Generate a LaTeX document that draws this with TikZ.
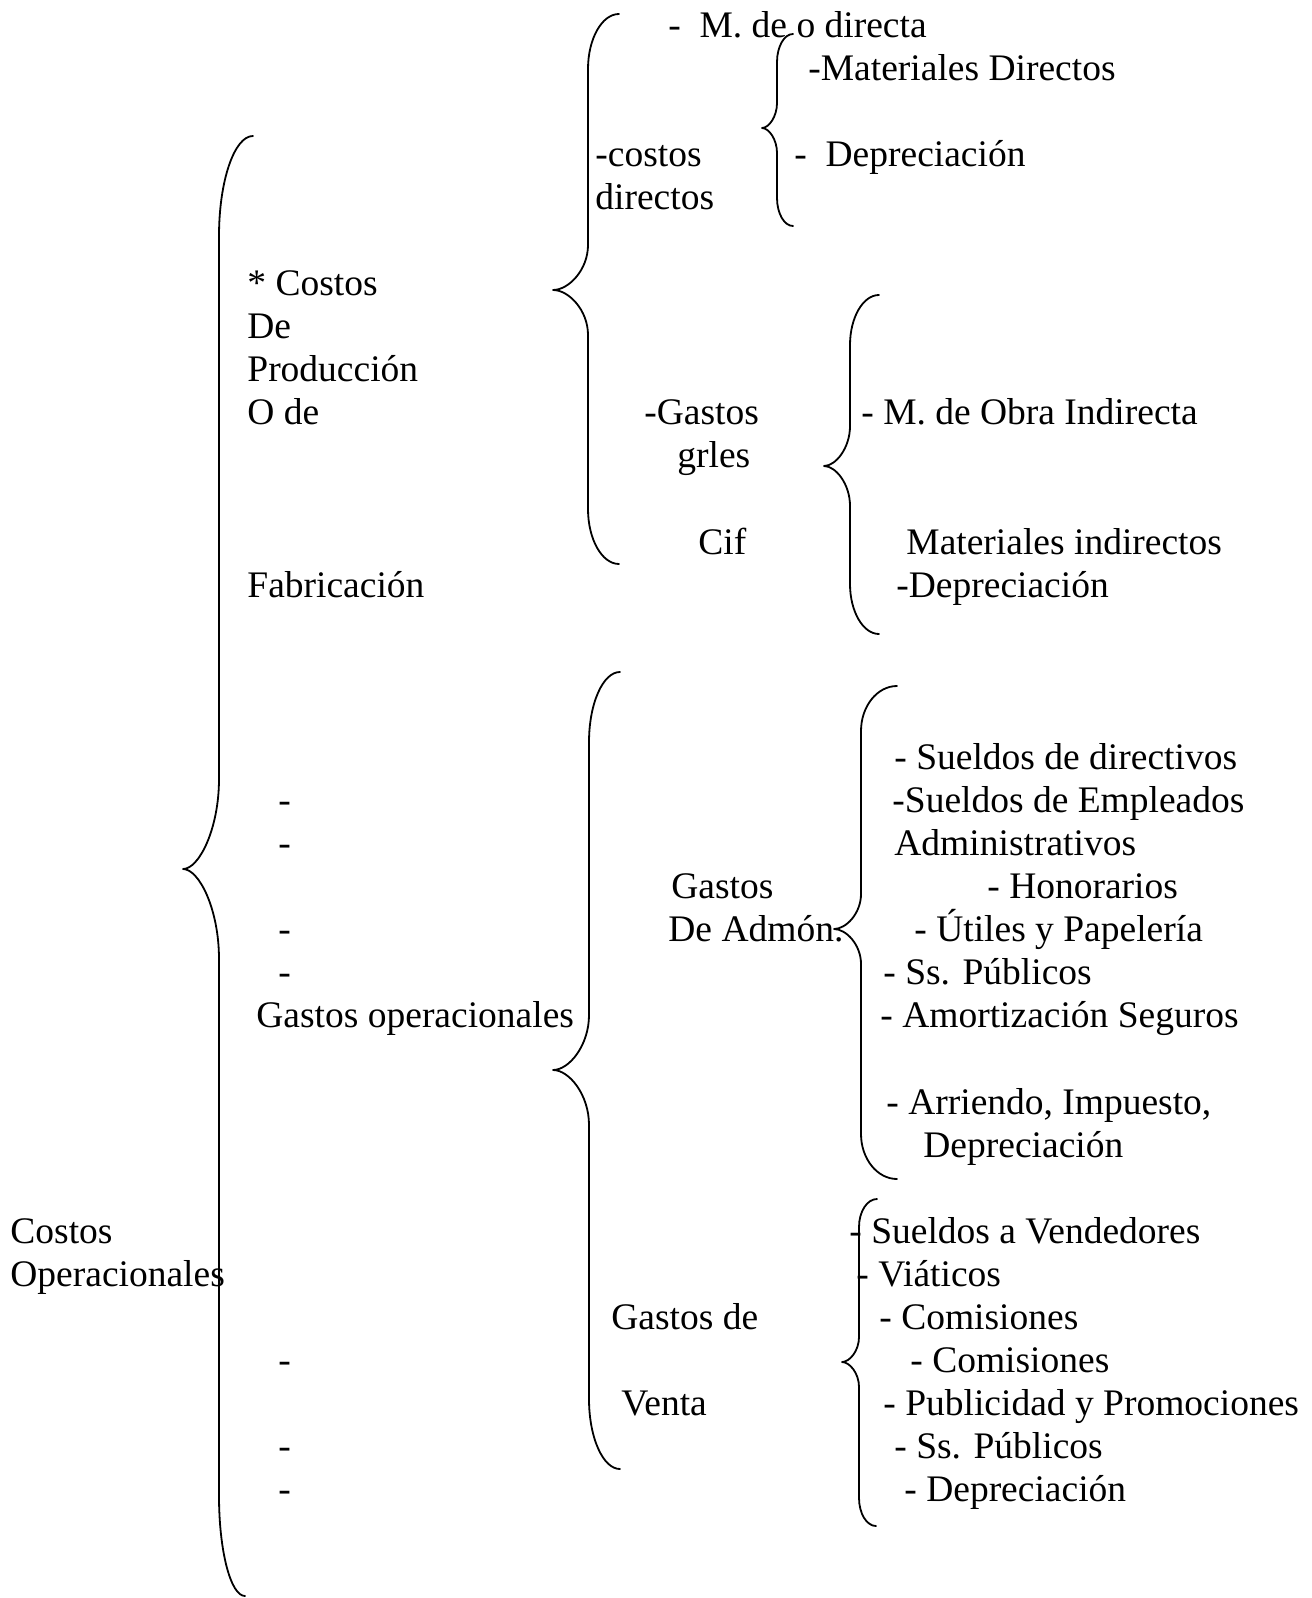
\documentclass[tikz,border=0pt]{standalone}
\usepackage{fontspec}
\setmainfont{Liberation Serif}
\tikzset{
  txt/.style={anchor=base west, inner sep=0pt, font=\fontsize{18.75}{21.5}\selectfont},
  bracestyle/.style={draw=black, line width=0.9pt, line cap=round, line join=round}
}
% #1 xe top, #2 yt, #3 xv, #4 xt, #5 ym, #6 xe bottom, #7 yb, #8 ry1, #9 ry2
\newcommand\mybracepath[9]{%
\draw[bracestyle] (#1,#2) .. controls ({#3+0.45*(#1-#3)},#2) and (#3,{#2+0.45*#8}) .. (#3,{#2+#8})
 -- (#3,{#5-#9}) .. controls (#3,{#5-0.45*#9}) and ({#4+0.45*(#3-#4)},#5) .. (#4,#5)
 .. controls ({#4+0.45*(#3-#4)},#5) and (#3,{#5+0.45*#9}) .. (#3,{#5+#9})
 -- (#3,{#7-#8}) .. controls (#3,{#7-0.45*#8}) and ({#3+0.45*(#6-#3)},#7) .. (#6,#7);}
\begin{document}
\begin{tikzpicture}[x=0.5pt,y=-0.5pt]
\useasboundingbox[fill=white] (0,0) rectangle (1311,1598);
% braces
\mybracepath{253}{136}{219}{183}{869}{245}{1596}{100}{90}
\mybracepath{619}{14}{588}{553}{290}{619}{564}{55}{45}
\mybracepath{793}{34}{777}{762}{128}{793}{226}{28}{25}
\mybracepath{879}{295}{850}{824}{466}{879}{634}{50}{40}
\mybracepath{620}{672}{589}{553}{1070}{620}{1469}{70}{55}
\mybracepath{897}{686}{861}{834}{929}{897}{1179}{45}{35}
\mybracepath{877}{1199}{859}{842}{1362}{876}{1526}{28}{25}
% texts
\node[txt] (t01) at (668,38) {-~~M. de o directa};
\node[txt] (t02) at (808,81) {-Materiales Directos};
\node[txt] (t03) at (595,167) {-costos};
\node[txt] (t04) at (595,210) {directos};
\node[txt] (t05) at (794,167) {-~~Depreciación};
\node[txt] (t06) at (247,296) {* Costos};
\node[txt] (t07) at (247,339) {De};
\node[txt] (t08) at (247,382) {Producción};
\node[txt] (t09) at (247,425) {O de};
\node[txt] (t10) at (247,597) {Fabricación};
\node[txt] (t11) at (644,425) {-Gastos};
\node[txt] (t12) at (677,468) {grles};
\node[txt] (t13) at (698,554) {Cif};
\node[txt] (t14) at (861,425) {- M. de Obra Indirecta};
\node[txt] (t15) at (906,554) {Materiales indirectos};
\node[txt] (t16) at (896,597) {-Depreciación};
\node[txt] (d1) at (278,812) {-};
\node[txt] (d2) at (278,855) {-};
\node[txt] (d3) at (278,941) {-};
\node[txt] (d4) at (278,984) {-};
\node[txt] (t17) at (256,1027) {Gastos operacionales};
\node[txt] (t18) at (894,769) {- Sueldos de directivos};
\node[txt] (t19) at (892,812) {-Sueldos de Empleados};
\node[txt] (t20) at (894,855) {Administrativos};
\node[txt] (t21) at (987,898) {- Honorarios};
\node[txt] (t22) at (671,898) {Gastos};
\node[txt] (t23) at (668,941) {De Admón.};
\node[txt] (t24) at (914,941) {- Útiles y Papelería};
\node[txt] (t25) at (883,984) {- Ss. Públicos};
\node[txt] (t26) at (880,1027) {- Amortización Seguros};
\node[txt] (t27) at (886,1114) {- Arriendo, Impuesto,};
\node[txt] (t28) at (923,1157) {Depreciación};
\node[txt] (t29) at (10,1243) {Costos};
\node[txt] (t30) at (10,1286) {Operacionales};
\node[txt] (t31) at (849,1243) {- Sueldos a Vendedores};
\node[txt] (t32) at (856,1286) {- Viáticos};
\node[txt] (t33) at (611,1329) {Gastos de};
\node[txt] (t34) at (879,1329) {- Comisiones};
\node[txt] (d5) at (278,1372) {-};
\node[txt] (t35) at (910,1372) {- Comisiones};
\node[txt] (t36) at (621,1415) {Venta};
\node[txt] (t37) at (883,1415) {- Publicidad y Promociones};
\node[txt] (d6) at (278,1458) {-};
\node[txt] (t38) at (894,1458) {- Ss. Públicos};
\node[txt] (d7) at (278,1501) {-};
\node[txt] (t39) at (904,1501) {- Depreciación};
\end{tikzpicture}
\end{document}
